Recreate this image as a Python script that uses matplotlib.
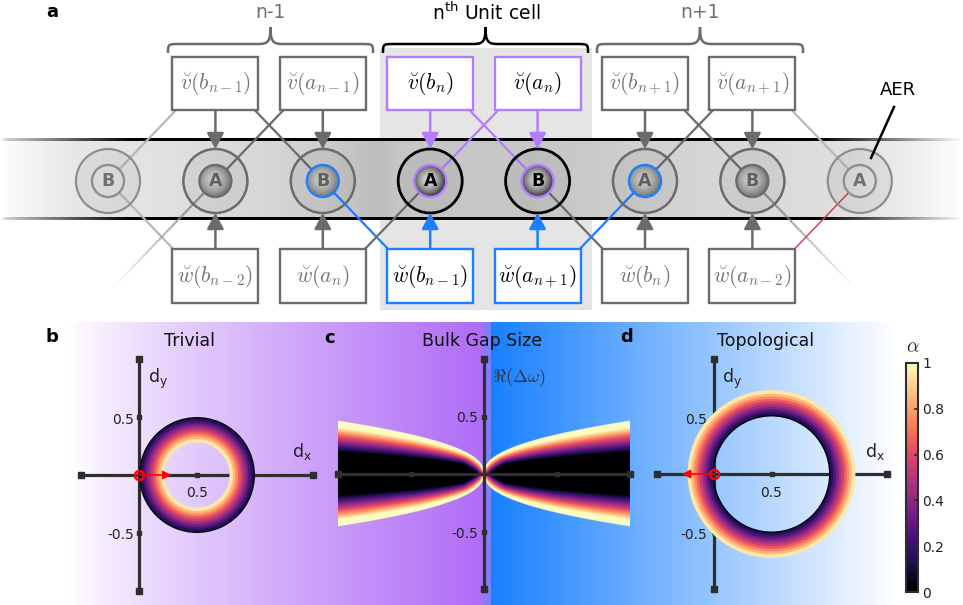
import numpy as np
import matplotlib
matplotlib.use("Agg")
import matplotlib.pyplot as plt
from matplotlib.patches import Circle, Rectangle, Wedge, FancyArrowPatch, PathPatch
from matplotlib.path import Path
from matplotlib.collections import LineCollection
from matplotlib import colormaps
from matplotlib.cm import ScalarMappable
from matplotlib.colors import Normalize

# ---------------- data ----------------
site_labels = ['B', 'A', 'B', 'A', 'B', 'A', 'B', 'A']
drive_labels = [r'$\breve{v}(b_{n-1})$', r'$\breve{v}(a_{n-1})$', r'$\breve{v}(b_n)$',
                r'$\breve{v}(a_n)$', r'$\breve{v}(b_{n+1})$', r'$\breve{v}(a_{n+1})$']
loss_labels = [r'$\breve{w}(b_{n-2})$', r'$\breve{w}(a_n)$', r'$\breve{w}(b_{n-1})$',
               r'$\breve{w}(a_{n+1})$', r'$\breve{w}(b_n)$', r'$\breve{w}(a_{n-2})$']
cell_labels = ['n-1', r'n$^{\mathrm{th}}$ Unit cell', 'n+1']
panel_titles = ['Trivial', 'Bulk Gap Size', 'Topological']
panel_letters = ['a', 'b', 'c', 'd']

ring_center = 0.5
trivial_ring = (0.28, 0.50)      # inner, outer radius (alpha = 1 at inner edge)
topo_ring = (0.50, 0.73)         # inner, outer radius (alpha = 1 at outer edge)
ring_levels = 10
trivial_arrow = 0.28
topo_arrow = -0.28

gap_edge = 0.46                  # gap half-height at |lambda_NL| = 1
gap_power = 0.43
alpha_onset = 0.40               # relative height where alpha starts to rise
alpha_slope = 2.1
edge_band = 0.10                 # bright rim width (absolute units)

tick_vals = [-0.5, 0.5]
cbar_ticks = [0, 0.2, 0.4, 0.6, 0.8, 1]

# ---------------- figure ----------------
W, H, DPI = 963, 605, 100
fig = plt.figure(figsize=(W / DPI, H / DPI), dpi=DPI)
bg = fig.add_axes([0, 0, 1, 1])
bg.axis('off')

GRAY = '#6b6b6b'
LIGHT = '#b9b9b9'
FADED = '#8e8e8e'
PURPLE = '#b57cff'
BLUE = '#1c7fff'
RED = '#cc3b3b'
AXC = '#2e2e2e'

# ---- background of the lower panels ----
xs = np.arange(W) + 0.5
purple_end = np.array([176, 108, 246]) / 255
mid_col = np.array([128, 126, 255]) / 255
blue_start = np.array([24, 128, 255]) / 255
tl = np.clip((xs - 70) / (484 - 70), 0, 1) ** 0.85
tr = np.clip((xs - 491) / (895 - 491), 0, 1)
left_c = 1 + (purple_end - 1) * tl[:, None]
right_c = blue_start + (1 - blue_start) * tr[:, None]
rgb = np.where((xs < 484)[:, None], left_c,
               np.where((xs < 491)[:, None], mid_col, right_c))
bg.imshow(rgb[None, :, :], extent=(0, W, 605, 322), aspect='auto',
          interpolation='bilinear', zorder=0)

# ---- unit cell highlight and waveguide band ----
bg.add_patch(Rectangle((380, 48), 212, 262, fc='#e5e5e5', ec='none', zorder=0.5))
gx = [0, 20, 70, 150, 250, 330, 380, 400, 500, 590, 640, 750, 850, 920, 963]
gv = [1.0, 0.97, 0.91, 0.89, 0.85, 0.80, 0.74, 0.78, 0.78, 0.79, 0.82, 0.85, 0.88, 0.94, 1.0]
band = np.interp(xs, gx, gv)
bg.imshow(np.repeat(band[None, :, None], 3, axis=2), extent=(0, W, 219, 140),
          aspect='auto', interpolation='bilinear', zorder=1)

# band edges: black lines fading out at both ends
la = np.interp(xs, [0, 8, 130, 820, 900, 963], [0.0, 0.2, 1.0, 1.0, 0.45, 0.0])
edge_rgba = np.zeros((1, W, 4))
edge_rgba[..., 3] = la
for yy in (140, 219):
    bg.imshow(edge_rgba, extent=(0, W, yy + 1.2, yy - 1.2), aspect='auto',
              interpolation='bilinear', zorder=1.5)

# ---- sites ----
node_x = 108 + 107.4 * np.arange(len(site_labels))
node_y = 181.0
R_OUT, R_IN = 32.0, 16.0
outer_col = [FADED, GRAY, GRAY, 'black', 'black', GRAY, GRAY, FADED]
outer_lw = [1.6, 1.8, 1.8, 2.0, 2.0, 1.8, 1.8, 1.6]
inner_col = [FADED, GRAY, BLUE, PURPLE, PURPLE, BLUE, GRAY, FADED]
text_col = ['#707070', '#606060', '#606060', 'black', 'black', '#606060', '#606060', '#707070']
sphere = [None, (0.80, 0.45), (0.80, 0.45), (0.86, 0.18), (0.86, 0.18),
          (0.80, 0.45), (0.80, 0.45), None]

SLOPE = 0.96   # dx/dy of the coupling lines


def coupling(i, side, sign, color, lw=1.6, y_end=None, fade=False):
    """Straight coupling line from a site out to a box edge (or a fading tail)."""
    cx = node_x[i]
    if y_end is None:
        y_end = 110 if side == 'top' else 249
    dy = y_end - node_y
    ex = cx + sign * abs(dy) * SLOPE
    d = np.hypot(ex - cx, dy)
    sx = cx + (ex - cx) * R_IN / d
    sy = node_y + dy * R_IN / d
    if not fade:
        bg.plot([sx, ex], [sy, y_end], color=color, lw=lw, zorder=2,
                solid_capstyle='butt')
    else:
        t = np.linspace(0, 1, 40)
        px = sx + (ex - sx) * t
        py = sy + (y_end - sy) * t
        segs = [[(px[k], py[k]), (px[k + 1], py[k + 1])] for k in range(len(t) - 1)]
        rgbc = matplotlib.colors.to_rgb(color)
        cols = [(*rgbc, 0.85 * (1 - t[k]) ** 1.2) for k in range(len(t) - 1)]
        bg.add_collection(LineCollection(segs, colors=cols, linewidths=lw, zorder=2,
                                         capstyle='round'))


# upper couplings (drive boxes -> sites)
for i, s, c in [(0, 1, LIGHT), (1, 1, GRAY), (2, -1, GRAY), (3, 1, PURPLE),
                (4, -1, PURPLE), (5, 1, GRAY), (6, -1, GRAY), (7, -1, LIGHT)]:
    coupling(i, 'top', s, c)
# lower couplings (sites -> loss boxes)
coupling(0, 'bottom', 1, LIGHT)
coupling(1, 'bottom', -1, '#8a8a8a', y_end=287, fade=True)
coupling(2, 'bottom', 1, BLUE)
coupling(3, 'bottom', -1, GRAY)
coupling(4, 'bottom', 1, GRAY)
coupling(5, 'bottom', -1, BLUE)
coupling(6, 'bottom', 1, '#8a8a8a', y_end=287, fade=True)
coupling(7, 'bottom', -1, RED, lw=1.0)

g = np.linspace(-1, 1, 64)
GX, GY = np.meshgrid(g, g)
GD = np.clip(np.hypot(GX + 0.08, GY + 0.08), 0, 1.2) / 1.1
for i, lab in enumerate(site_labels):
    cx = node_x[i]
    bg.add_patch(Circle((cx, node_y), R_OUT, fc=(0, 0, 0, 0.05), ec=outer_col[i],
                        lw=outer_lw[i], zorder=3))
    if sphere[i] is not None:
        c0, c1 = sphere[i]
        val = c0 + (c1 - c0) * np.clip(GD, 0, 1) ** 1.6
        im = bg.imshow(val, cmap='gray', vmin=0, vmax=1, aspect='auto',
                       extent=(cx - R_IN, cx + R_IN, node_y + R_IN, node_y - R_IN),
                       interpolation='bilinear', zorder=4)
        im.set_clip_path(Circle((cx, node_y), R_IN, transform=bg.transData))
    bg.add_patch(Circle((cx, node_y), R_IN, fc='none', ec=inner_col[i], lw=1.7, zorder=4.5))
    bg.text(cx, node_y + 0.5, lab, ha='center', va='center', fontsize=12.5,
            fontweight='bold', color=text_col[i], zorder=5)

# ---- drive and loss boxes ----
box_x = node_x[1:7]
top_edge = [GRAY, GRAY, PURPLE, PURPLE, GRAY, GRAY]
bot_edge = [GRAY, GRAY, BLUE, BLUE, GRAY, GRAY]
arrow_style = '-|>,head_length=0.6,head_width=0.32'
for k, cx in enumerate(box_x):
    for (y0, hgt, ec, lab) in [(57, 53, top_edge[k], drive_labels[k]),
                                (249, 54, bot_edge[k], loss_labels[k])]:
        bg.add_patch(Rectangle((cx - 43, y0), 86, hgt, fc='white', ec=ec, lw=1.7, zorder=6))
        tc = '#757575' if ec == GRAY else 'black'
        bg.text(cx, y0 + hgt / 2, lab, ha='center', va='center', fontsize=15.5,
                color=tc, math_fontfamily='cm', zorder=7)
    bg.add_patch(FancyArrowPatch((cx, 110), (cx, node_y - R_OUT), arrowstyle=arrow_style,
                                 mutation_scale=16, lw=1.8, color=top_edge[k],
                                 shrinkA=0, shrinkB=0, zorder=5))
    bg.add_patch(FancyArrowPatch((cx, 249), (cx, node_y + R_OUT), arrowstyle=arrow_style,
                                 mutation_scale=16, lw=1.8, color=bot_edge[k],
                                 shrinkA=0, shrinkB=0, zorder=5))


# ---- curly braces over each unit cell ----
def brace(x0, x1, color, yb=53, ym=44, yt=27, r=12):
    xc = 0.5 * (x0 + x1)
    verts = [(x0, yb), (x0, ym), (x0, ym), (x0 + r, ym),
             (xc - r, ym),
             (xc - 2, ym), (xc, ym - 3), (xc, yt),
             (xc, ym - 3), (xc + 2, ym), (xc + r, ym),
             (x1 - r, ym),
             (x1, ym), (x1, ym), (x1, yb)]
    codes = [Path.MOVETO, Path.CURVE4, Path.CURVE4, Path.CURVE4,
             Path.LINETO,
             Path.CURVE4, Path.CURVE4, Path.CURVE4,
             Path.CURVE4, Path.CURVE4, Path.CURVE4,
             Path.LINETO,
             Path.CURVE4, Path.CURVE4, Path.CURVE4]
    bg.add_patch(PathPatch(Path(verts, codes), fc='none', ec=color, lw=1.8, zorder=6))


brace(168, 373, GRAY)
brace(383, 588, 'black')
brace(597, 803, GRAY)
bg.text(270, 13, cell_labels[0], ha='center', va='center', fontsize=13.5, color='#707070')
bg.text(486, 13, cell_labels[1], ha='center', va='center', fontsize=13.5, color='black')
bg.text(700, 13, cell_labels[2], ha='center', va='center', fontsize=13.5, color='#707070')

bg.text(898, 90, 'AER', ha='center', va='center', fontsize=13, color='black')
bg.plot([894, 871], [107, 158], color='black', lw=1.8, zorder=6)

# panel letters
for lab, (px, py) in zip(panel_letters, [(52, 12), (52, 337), (330, 338), (627, 337)]):
    bg.text(px, py, lab, ha='center', va='center', fontsize=13, fontweight='bold')

# panel titles
for lab, px in zip(panel_titles, [190, 482, 766]):
    bg.text(px, 341, lab, ha='center', va='center', fontsize=12.5, color='#111111')

bg.set_xlim(0, W)
bg.set_ylim(H, 0)


# ---------------- lower panels ----------------
def panel_axes(cx, cy, sx, sy, xlim, ylim):
    left = cx + xlim[0] * sx
    right = cx + xlim[1] * sx
    top = cy - ylim[1] * sy
    bottom = cy - ylim[0] * sy
    ax = fig.add_axes([left / W, 1 - bottom / H, (right - left) / W, (bottom - top) / H])
    ax.set_xlim(xlim)
    ax.set_ylim(ylim)
    ax.axis('off')
    ax.patch.set_alpha(0)
    return ax


def cross_axes(ax, xr, yr, z):
    ax.plot(xr, [0, 0], color=AXC, lw=2.3, solid_capstyle='butt', zorder=z)
    ax.plot([0, 0], yr, color=AXC, lw=2.3, solid_capstyle='butt', zorder=z)
    ax.plot(xr, [0, 0], 's', color=AXC, ms=4.5, zorder=z)
    ax.plot([0, 0], yr, 's', color=AXC, ms=4.5, zorder=z)
    tx = [v for v in tick_vals if xr[0] < v < xr[1]]
    ax.plot(tx, [0] * len(tx), 's', color=AXC, ms=3.5, zorder=z)
    ax.plot([0] * len(tick_vals), tick_vals, 's', color=AXC, ms=3.5, zorder=z)


cmap = colormaps['magma']


def ring(ax, r_alpha0, r_alpha1):
    """Stepped ring: alpha = 0 at radius r_alpha0, alpha -> 1 at r_alpha1.
    Each band slightly overlaps the previous one so no seams show."""
    w = (r_alpha1 - r_alpha0) / ring_levels
    for k in range(ring_levels):
        ra = r_alpha0 + k * w
        rb = ra + w
        ra_ext = ra - 0.4 * w if k > 0 else ra
        lo, hi = min(ra_ext, rb), max(ra_ext, rb)
        ax.add_patch(Wedge((ring_center, 0), hi, 0, 360, width=hi - lo,
                           fc=cmap((k + 0.5) / ring_levels), ec='none', zorder=3 + 0.01 * k))


# b: trivial
axb = panel_axes(139, 475, 116, 116, (-0.6, 1.6), (-1.1, 1.1))
cross_axes(axb, [-0.5, 1.5], [-1, 1], 2)
ring(axb, trivial_ring[1], trivial_ring[0])
axb.annotate('', xy=(trivial_arrow, 0), xytext=(0, 0),
             arrowprops=dict(arrowstyle='-|>,head_length=0.5,head_width=0.25',
                             color='red', lw=1.2, mutation_scale=10, shrinkA=0, shrinkB=0),
             zorder=8)
axb.plot(0, 0, 'o', mfc='none', mec='red', mew=1.8, ms=6.5, zorder=9)

# d: topological
axd = panel_axes(714, 474, 115, 115, (-0.6, 1.6), (-1.1, 1.1))
cross_axes(axd, [-0.5, 1.5], [-1, 1], 2)
ring(axd, topo_ring[0], topo_ring[1])
axd.annotate('', xy=(topo_arrow, 0), xytext=(0, 0),
             arrowprops=dict(arrowstyle='-|>,head_length=0.5,head_width=0.25',
                             color='red', lw=1.2, mutation_scale=10, shrinkA=0, shrinkB=0),
             zorder=8)
axd.plot(0, 0, 'o', mfc='none', mec='red', mew=1.8, ms=6.5, zorder=9)

# c: bulk gap size (alpha over the lambda_NL / Re(dw) plane)
axc = panel_axes(484, 474, 146, 115, (-1.08, 1.08), (-1.1, 1.1))
lam = np.linspace(-1, 1, 601)
dw = np.linspace(-0.5, 0.5, 461)
LL, DD = np.meshgrid(lam, dw)
half = gap_edge * np.abs(LL) ** gap_power
rr = np.abs(DD) / np.maximum(half, 1e-9)
alpha_rel = np.clip(alpha_slope * (rr - alpha_onset), 0, 1)
alpha_abs = np.clip(1 - (half - np.abs(DD) - 0.02) / edge_band, 0, 1)
alpha_field = np.maximum(alpha_rel, alpha_abs)
gap_rgba = cmap(alpha_field)
gap_rgba[..., 3] = np.where(rr <= 1, 1.0, 0.0)
axc.imshow(gap_rgba, extent=(-1, 1, -0.5, 0.5), origin='lower',
           aspect='auto', interpolation='antialiased', zorder=1)
axc.set_xlim(-1.08, 1.08)
axc.set_ylim(-1.1, 1.1)
cross_axes(axc, [-1, 1], [-1, 1], 4)

# axis labels and tick labels (figure pixel positions)
TK = dict(fontsize=10, color='#222222', zorder=10)
bg.text(148, 383, r'd$_{\mathrm{y}}$', ha='left', va='baseline', fontsize=12.5, color='#222222')
bg.text(292, 457, r'd$_{\mathrm{x}}$', ha='left', va='baseline', fontsize=12.5, color='#222222')
bg.text(722, 383, r'd$_{\mathrm{y}}$', ha='left', va='baseline', fontsize=12.5, color='#222222')
bg.text(865, 457, r'd$_{\mathrm{x}}$', ha='left', va='baseline', fontsize=12.5, color='#222222')
bg.text(197, 493, '0.5', ha='center', va='center', **TK)
bg.text(134, 420, '0.5', ha='right', va='center', **TK)
bg.text(134, 535, '-0.5', ha='right', va='center', **TK)
bg.text(771, 493, '0.5', ha='center', va='center', **TK)
bg.text(707, 420, '0.5', ha='right', va='center', **TK)
bg.text(707, 535, '-0.5', ha='right', va='center', **TK)
bg.text(478, 418, '0.5', ha='right', va='center', **TK)
bg.text(478, 534, '-0.5', ha='right', va='center', **TK)
bg.text(411, 493, '-0.5', ha='center', va='center', fontsize=10, color='white', zorder=10)
bg.text(557, 493, '0.5', ha='center', va='center', fontsize=10, color='white', zorder=10)
bg.text(492, 378, r'$\Re(\Delta\omega)$', ha='left', va='center', fontsize=13,
        color='#333333', math_fontfamily='cm', zorder=10)
bg.text(598, 455, r'$\lambda_{\mathrm{NL}}$', ha='left', va='center', fontsize=12.5,
        color='white', zorder=10)

# colorbar
cax = fig.add_axes([906 / W, 1 - 592 / H, 12 / W, 229 / H])
cb = fig.colorbar(ScalarMappable(norm=Normalize(0, 1), cmap=cmap), cax=cax, ticks=cbar_ticks)
cb.ax.set_yticklabels(['0', '0.2', '0.4', '0.6', '0.8', '1'])
cb.ax.tick_params(direction='in', length=3, width=1.2, color=AXC, labelsize=10,
                  labelcolor='#222222', pad=3)
cb.outline.set_edgecolor(AXC)
cb.outline.set_linewidth(1.5)
bg.text(913, 347, r'$\alpha$', ha='center', va='center', fontsize=14,
        math_fontfamily='cm', color='#222222')

fig.savefig('out.png', dpi=DPI)
